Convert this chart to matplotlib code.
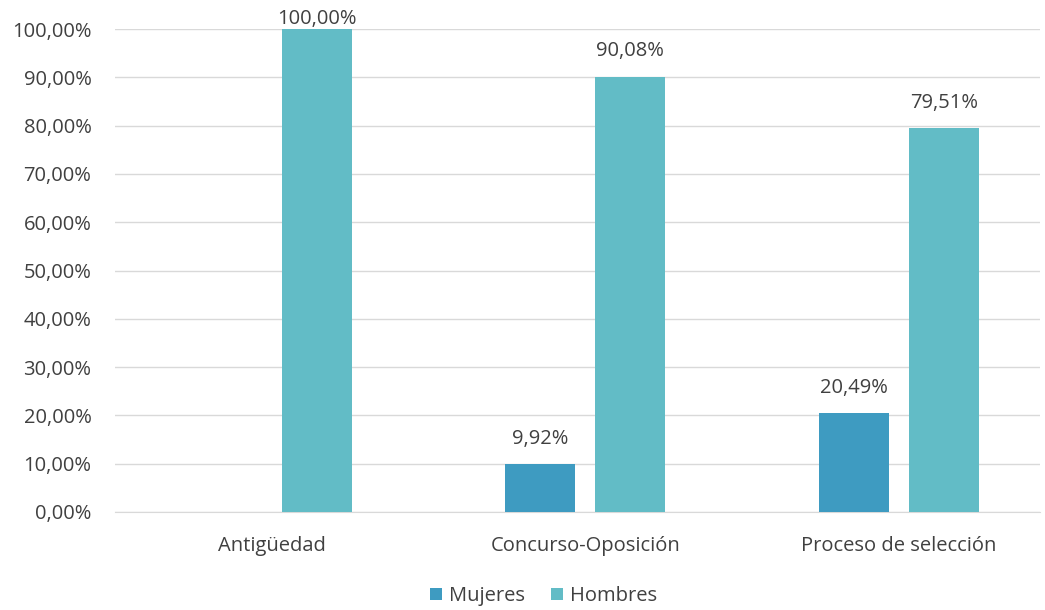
import matplotlib
matplotlib.use("Agg")
from matplotlib import pyplot as plt
from matplotlib.ticker import FuncFormatter
import numpy as np

categories = ["Antigüedad", "Concurso-Oposición", "Proceso de selección"]
mujeres = [0.0, 9.92, 20.49]
hombres = [100.0, 90.08, 79.51]
series_names = ["Mujeres", "Hombres"]
colors = ["#3E9BC1", "#62BCC6"]

plt.rcParams['font.family'] = ['Open Sans', 'DejaVu Sans']
text_color = "#404040"
fs = 14.5

fig = plt.figure(figsize=(10.45, 6.1), dpi=100)
ax = fig.add_axes([115 / 1045, 1 - 512 / 610, 925 / 1045, (512 - 29) / 610])

x = np.arange(len(categories))
width = 0.223
offset = 0.1435
bars_m = ax.bar(x - offset, mujeres, width, color=colors[0], label=series_names[0], zorder=3)
bars_h = ax.bar(x + offset, hombres, width, color=colors[1], label=series_names[1], zorder=3)


def pct(v):
    return f"{v:.2f}".replace(".", ",") + "%"


for bars, vals in ((bars_m, mujeres), (bars_h, hombres)):
    for b, v in zip(bars, vals):
        if v == 0:
            continue
        ax.text(b.get_x() + b.get_width() / 2, min(v + 3.2, 100.0), pct(v), ha="center", va="bottom",
                fontsize=fs, color=text_color, clip_on=False)

ax.set_xlim(-0.5, 2.45)
ax.set_ylim(0, 100)
ax.set_yticks(np.arange(0, 101, 10))
ax.yaxis.set_major_formatter(FuncFormatter(lambda v, p: pct(v)))
ax.set_xticks(x)
ax.set_xticklabels(categories)
ax.tick_params(axis="both", length=0, labelsize=fs, colors=text_color)
ax.tick_params(axis="y", pad=17)
ax.tick_params(axis="x", pad=17)
ax.grid(axis="y", color="#D9D9D9", linewidth=1, zorder=0)
for s in ["top", "right", "left"]:
    ax.spines[s].set_visible(False)
ax.spines["bottom"].set_color("#D9D9D9")

leg = fig.legend(loc="center", bbox_to_anchor=(0.52, 1 - 596 / 610), ncol=2, frameon=False,
                 fontsize=fs, handlelength=0.6, handleheight=0.6, handletextpad=0.35,
                 columnspacing=1.3)
for t in leg.get_texts():
    t.set_color(text_color)

fig.savefig("out.png", dpi=100)
